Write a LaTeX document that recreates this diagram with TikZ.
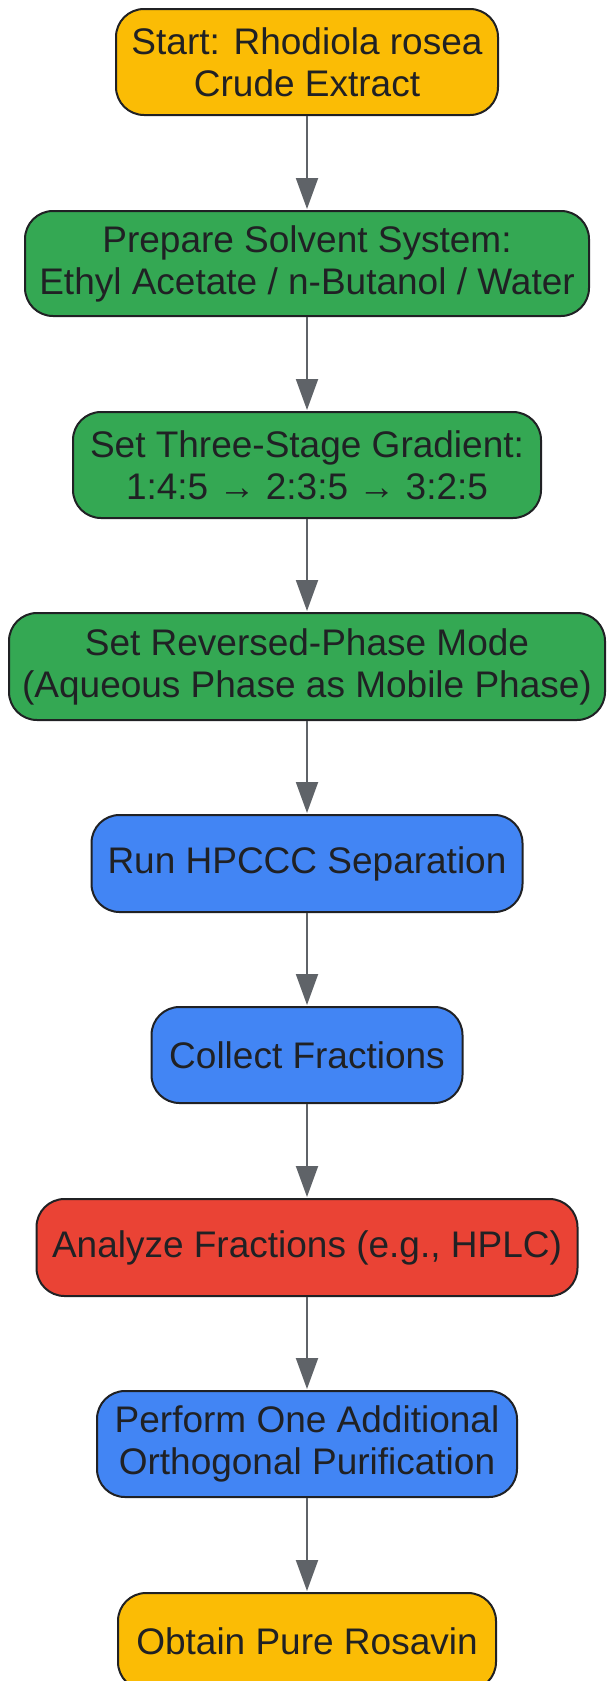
\documentclass[tikz,border=0pt]{standalone}
\usepackage{fontspec}
\setmainfont{Liberation Sans}
\usetikzlibrary{arrows.meta}
\definecolor{cyellow}{HTML}{FBBC05}
\definecolor{cgreen}{HTML}{34A853}
\definecolor{cblue}{HTML}{4285F4}
\definecolor{cred}{HTML}{EA4335}
\definecolor{cborder}{HTML}{202124}
\definecolor{carrow}{HTML}{5F6368}
\tikzset{
  box/.style={draw=cborder, line width=2pt, rounded corners=28pt, inner sep=0pt,
    align=center, text=cborder, font=\fontsize{37}{42}\selectfont},
  conn/.style={draw=carrow, line width=2pt, -{Triangle[length=31pt,width=22pt]}, shorten >=1pt}
}
\begin{document}
\begin{tikzpicture}[x=1pt,y=1pt]
\useasboundingbox (0,0) rectangle (606,-1681);
\node[box, fill=cyellow, minimum width=382pt, minimum height=106pt] (n1) at (307,-62) {Start: Rhodiola rosea\\Crude Extract};
\node[box, fill=cgreen, minimum width=564pt, minimum height=105pt] (n2) at (307,-263.5) {Prepare Solvent System:\\Ethyl Acetate / n-Butanol / Water};
\node[box, fill=cgreen, minimum width=468pt, minimum height=106pt] (n3) at (307,-465) {Set Three-Stage Gradient:\\1:4:5 → 2:3:5 → 3:2:5};
\node[box, fill=cgreen, minimum width=596pt, minimum height=107pt] (n4) at (307,-666.5) {Set Reversed-Phase Mode\\(Aqueous Phase as Mobile Phase)};
\node[box, fill=cblue, minimum width=431pt, minimum height=97pt] (n5) at (307,-863.5) {Run HPCCC Separation};
\node[box, fill=cblue, minimum width=311pt, minimum height=96pt] (n6) at (307,-1055) {Collect Fractions};
\node[box, fill=cred, minimum width=541pt, minimum height=97pt] (n7) at (307,-1247.5) {Analyze Fractions (e.g., HPLC)};
\node[box, fill=cblue, minimum width=420pt, minimum height=106pt] (n8) at (307,-1444) {Perform One Additional\\Orthogonal Purification};
\node[box, fill=cyellow, minimum width=378pt, minimum height=97pt] (n9) at (307,-1641.5) {Obtain Pure Rosavin};
\draw[conn] (n1) -- (n2);
\draw[conn] (n2) -- (n3);
\draw[conn] (n3) -- (n4);
\draw[conn] (n4) -- (n5);
\draw[conn] (n5) -- (n6);
\draw[conn] (n6) -- (n7);
\draw[conn] (n7) -- (n8);
\draw[conn] (n8) -- (n9);
\end{tikzpicture}
\end{document}
